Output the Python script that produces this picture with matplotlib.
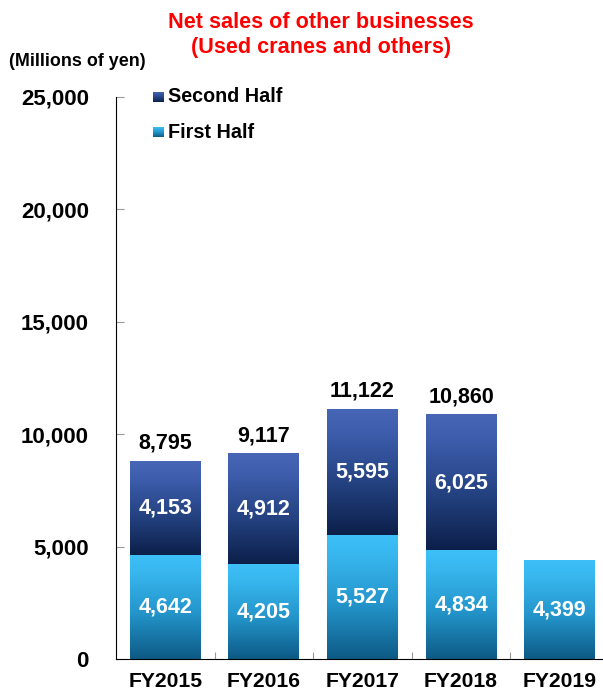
import matplotlib
matplotlib.use("Agg")
import matplotlib.pyplot as plt
import numpy as np
from matplotlib.colors import LinearSegmentedColormap

plt.rcParams['font.family'] = ['Liberation Sans', 'DejaVu Sans']
plt.rcParams['font.weight'] = 'bold'

years = ["FY2015", "FY2016", "FY2017", "FY2018", "FY2019"]
first_half = [4642, 4205, 5527, 4834, 4399]
second_half = [4153, 4912, 5595, 6025, None]
totals = [8795, 9117, 11122, 10860, None]

# vertical gradients, position 0 = bottom of segment, 1 = top
cm_first = LinearSegmentedColormap.from_list(
    "first", [(0, "#0d5a85"), (0.45, "#2496cc"), (0.85, "#39b8f0"), (1, "#3dbff7")])
cm_second = LinearSegmentedColormap.from_list(
    "second", [(0, "#0c1f4a"), (0.4, "#23417f"), (0.8, "#3d5cab"), (1, "#4866b6")])

W, H = 603, 695
fig = plt.figure(figsize=(W / 100, H / 100), dpi=100)
ax = fig.add_axes([116 / W, 1 - 659 / H, 1 - 116 / W, (659 - 97) / H])

width = 0.72
grad = np.linspace(0, 1, 256).reshape(-1, 1)


def grad_bar(x, bottom, height, cmap):
    ax.imshow(grad, cmap=cmap, origin="lower", aspect="auto",
              extent=[x - width / 2, x + width / 2, bottom, bottom + height],
              interpolation="bicubic", zorder=2)


for i, year in enumerate(years):
    grad_bar(i, 0, first_half[i], cm_first)
    ax.text(i, first_half[i] / 2, f"{first_half[i]:,}", color="white",
            ha="center", va="center", fontsize=15.5, fontweight="bold", zorder=3)
    if second_half[i] is not None:
        grad_bar(i, first_half[i], second_half[i], cm_second)
        ax.text(i, first_half[i] + second_half[i] / 2, f"{second_half[i]:,}",
                color="white", ha="center", va="center", fontsize=15.5,
                fontweight="bold", zorder=3)
    if totals[i] is not None:
        ax.text(i, totals[i] + 330, f"{totals[i]:,}", color="black",
                ha="center", va="bottom", fontsize=15.5, fontweight="bold")

ax.set_xlim(-0.5, 4.44)
ax.set_ylim(0, 25000)
ax.set_yticks(np.arange(0, 25001, 5000))
ax.set_yticklabels([f"{v:,}" for v in range(0, 25001, 5000)])
ax.set_xticks(np.arange(0.5, 4, 1))
ax.set_xticklabels([])
ax.set_xticks(range(len(years)), minor=True)
ax.set_xticklabels(years, minor=True)
ax.tick_params(axis="x", which="major", direction="in", length=5, color="#999999")
ax.tick_params(axis="x", which="minor", length=0, labelsize=15.2, pad=9.5)
ax.tick_params(axis="y", direction="in", length=6, color="#999999",
               labelsize=16, pad=19.5)
for lbl in ax.get_xticklabels(minor=True) + ax.get_yticklabels():
    lbl.set_fontweight("bold")

ax.spines["top"].set_visible(False)
ax.spines["right"].set_visible(False)
ax.spines["left"].set_color("black")
ax.spines["bottom"].set_color("black")


# legend drawn by hand with small gradient swatches
def swatch(y_px, cmap, label):
    sax = fig.add_axes([153 / W, 1 - (y_px + 5.5) / H, 11 / W, 11 / H])
    sax.imshow(grad, cmap=cmap, origin="lower", aspect="auto")
    sax.set_axis_off()
    fig.text(168 / W, 1 - y_px / H, label, fontsize=14.2,
             fontweight="bold", va="center", ha="left")


swatch(97, cm_second, "Second Half")
swatch(132, cm_first, "First Half")

fig.text(321 / W, 1 - 22 / H, "Net sales of other businesses",
         color="red", fontsize=15.6, fontweight="bold", ha="center", va="center")
fig.text(321 / W, 1 - 47 / H, "(Used cranes and others)",
         color="red", fontsize=15.6, fontweight="bold", ha="center", va="center")
fig.text(9 / W, 1 - 62 / H, "(Millions of yen)", fontsize=12.9,
         fontweight="bold", ha="left", va="center")

fig.savefig("out.png", dpi=100)
